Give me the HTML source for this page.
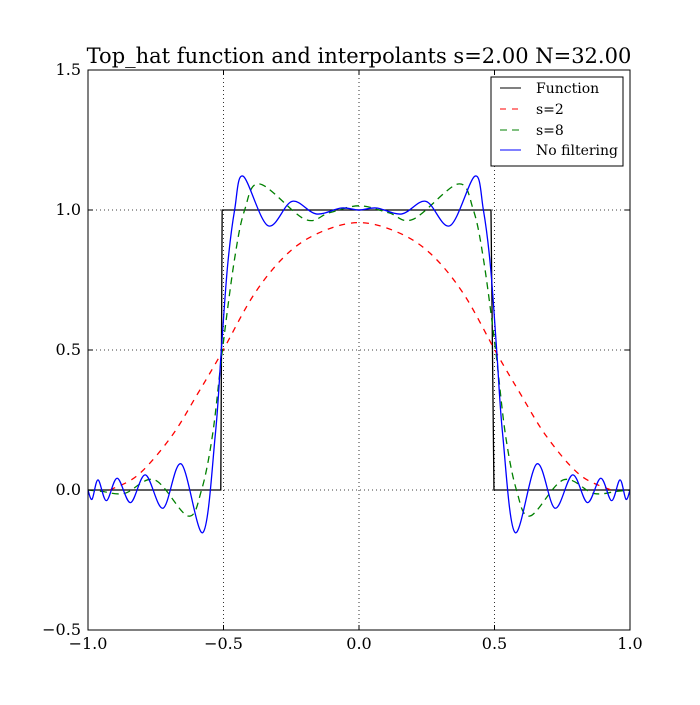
<!DOCTYPE html>
<html><head><meta charset="utf-8"><style>
body{margin:0;background:#fff;}
svg text{font-family:"DejaVu Serif","Liberation Serif",serif;}
</style></head><body>
<svg id="chart" width="700" height="700" xmlns="http://www.w3.org/2000/svg">
<rect width="700" height="700" fill="#fff"/>
<text x="359" y="63" font-size="21" text-anchor="middle">Top_hat function and interpolants s=2.00 N=32.00</text>
<g id="grid"></g>
<g id="series"></g>
<rect x="88" y="70" width="542" height="560" fill="none" stroke="#000" stroke-width="1"/>
<g id="ticks"></g>
<g>
<rect x="491" y="77" width="132" height="89" fill="#fff" stroke="#000"/>
<g><line x1="500" y1="88" x2="521" y2="88" stroke="#000"/><text x="536" y="93" font-size="14">Function</text></g>
<g><line x1="500" y1="109" x2="521" y2="109" stroke="red" stroke-dasharray="6,6"/><text x="536" y="114" font-size="14">s=2</text></g>
<g><line x1="500" y1="130" x2="521" y2="130" stroke="green" stroke-dasharray="7,5"/><text x="536" y="135" font-size="14">s=8</text></g>
<g><line x1="500" y1="150" x2="521" y2="150" stroke="blue"/><text x="536" y="155" font-size="14">No filtering</text></g>
</g>
</svg>
<script>
const xTicks=[-1.0,-0.5,0.0,0.5,1.0];
const yTicks=[-0.5,0.0,0.5,1.0,1.5];
const xTickLabels=["\u22121.0","\u22120.5","0.0","0.5","1.0"];
const yTickLabels=["\u22120.5","0.0","0.5","1.0","1.5"];
const funcX=[-1,-0.51,-0.505,0.487,0.498,1];
const funcY=[0,0,1,1,0,0];
const s2X=[-0.92,-0.815,-0.693,-0.594,-0.508,-0.385,-0.262,-0.139,0,0.139,0.262,0.385,0.508,0.594,0.693,0.815,0.93];
const s2Y=[0,0.054,0.19,0.346,0.488,0.702,0.846,0.922,0.955,0.922,0.846,0.702,0.488,0.346,0.19,0.054,0];
const s8X=[-1,-0.95,-0.865,-0.754,-0.631,-0.581,-0.54,-0.504,-0.46,-0.422,-0.366,-0.2,-0.11,0,0.11,0.2,0.366,0.422,0.46,0.504,0.54,0.581,0.631,0.754,0.865,0.95,1];
const s8Y=[0,-0.005,-0.012,0.036,-0.093,0,0.2,0.5,0.82,1.0,1.093,0.967,0.99,1.015,0.99,0.967,1.093,1.0,0.82,0.5,0.2,0,-0.093,0.036,-0.012,-0.005,0];
const nfX=[-1,-0.985,-0.963,-0.932,-0.892,-0.843,-0.788,-0.723,-0.656,-0.576,-0.53,-0.508,-0.485,-0.459,-0.428,-0.336,-0.247,-0.158,-0.065,0,0.065,0.158,0.247,0.336,0.428,0.459,0.485,0.508,0.53,0.576,0.656,0.723,0.788,0.843,0.892,0.932,0.963,0.985,1];
const nfY=[0,-0.033,0.036,-0.038,0.042,-0.045,0.054,-0.065,0.093,-0.152,0.2,0.5,0.8,1.0,1.121,0.944,1.031,0.986,1.007,1.0,1.007,0.986,1.031,0.944,1.121,1.0,0.8,0.5,0.2,-0.152,0.093,-0.065,0.054,-0.045,0.042,-0.038,0.036,-0.033,0];

const NS="http://www.w3.org/2000/svg";
const L=88,R=630,T=70,B=630,xmin=-1,xmax=1,ymin=-0.5,ymax=1.5;
const sx=v=>L+(v-xmin)/(xmax-xmin)*(R-L);
const sy=v=>B-(v-ymin)/(ymax-ymin)*(B-T);
function mk(tag,attrs,parent){const e=document.createElementNS(NS,tag);for(const k in attrs)e.setAttribute(k,attrs[k]);parent.appendChild(e);return e;}
const grid=document.getElementById('grid'),ticks=document.getElementById('ticks'),ser=document.getElementById('series');
xTicks.forEach((t,i)=>{
  const X=sx(t);
  if(i>0&&i<xTicks.length-1){const g=mk('line',{x1:X,y1:T,x2:X,y2:B,stroke:'#000','stroke-width':0.8,'stroke-dasharray':'1,3'},grid);
  
  }
  mk('line',{x1:X,y1:B,x2:X,y2:B-5,stroke:'#000'},ticks);
  mk('line',{x1:X,y1:T,x2:X,y2:T+5,stroke:'#000'},ticks);
  const tx=mk('text',{x:X,y:B+19,'font-size':16,'text-anchor':'middle'},ticks);tx.textContent=xTickLabels[i];
  
  
});
yTicks.forEach((t,i)=>{
  const Y=sy(t);
  if(i>0&&i<yTicks.length-1){const g=mk('line',{x1:L,y1:Y,x2:R,y2:Y,stroke:'#000','stroke-width':0.8,'stroke-dasharray':'1,3'},grid);
  
  }
  mk('line',{x1:L,y1:Y,x2:L+5,y2:Y,stroke:'#000'},ticks);
  mk('line',{x1:R,y1:Y,x2:R-5,y2:Y,stroke:'#000'},ticks);
  const tx=mk('text',{x:L-7,y:Y+5,'font-size':16,'text-anchor':'end'},ticks);tx.textContent=yTickLabels[i];
  
  
});
function smooth(xs,ys){
  const p=xs.map((x,i)=>[sx(x),sy(ys[i])]);
  let d='M'+p[0][0]+','+p[0][1];
  for(let i=0;i<p.length-1;i++){
    const p0=p[Math.max(0,i-1)],p1=p[i],p2=p[i+1],p3=p[Math.min(p.length-1,i+2)];
    const c1=[p1[0]+(p2[0]-p0[0])/6,p1[1]+(p2[1]-p0[1])/6];
    const c2=[p2[0]-(p3[0]-p1[0])/6,p2[1]-(p3[1]-p1[1])/6];
    d+=' C'+c1+' '+c2+' '+p2;
  }
  return d;
}
function poly(xs,ys){return 'M'+xs.map((x,i)=>sx(x)+','+sy(ys[i])).join(' L');}
const f=mk('path',{d:poly(funcX,funcY),fill:'none',stroke:'#000','stroke-width':1.3},ser);


const r=mk('path',{d:smooth(s2X,s2Y),fill:'none',stroke:'red','stroke-width':1.3,'stroke-dasharray':'6,6'},ser);


const g=mk('path',{d:smooth(s8X,s8Y),fill:'none',stroke:'green','stroke-width':1.3,'stroke-dasharray':'7,5'},ser);


const b=mk('path',{d:smooth(nfX,nfY),fill:'none',stroke:'blue','stroke-width':1.3},ser);


</script>
</body></html>
